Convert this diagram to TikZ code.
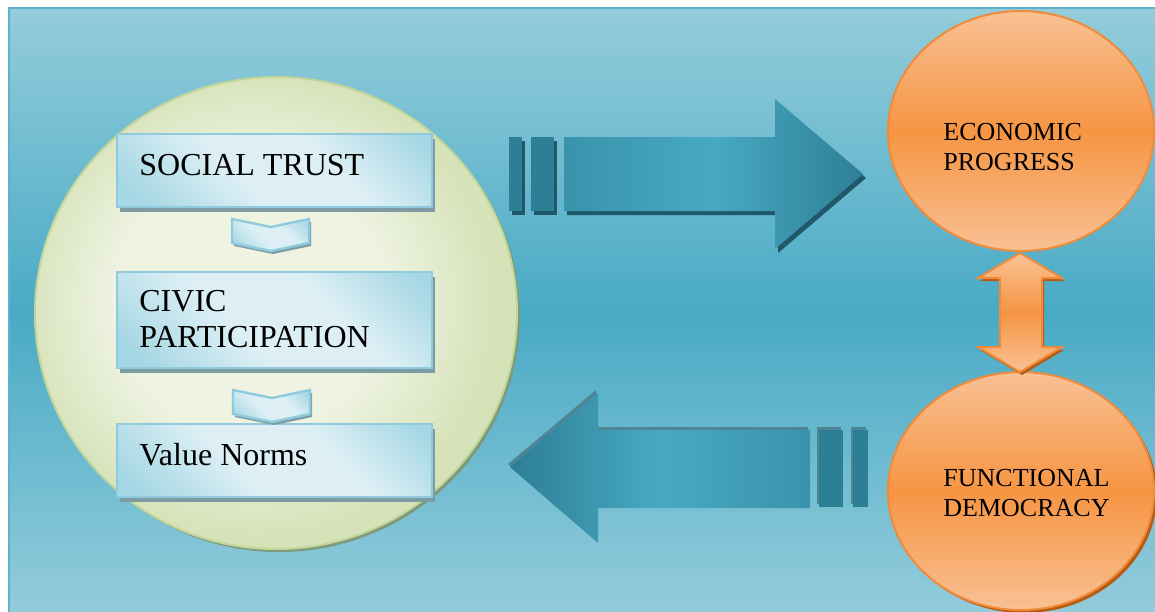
\documentclass[tikz,border=0pt]{standalone}
\usepackage{fontspec}
\setmainfont{Liberation Serif}

\definecolor{bglight}{HTML}{94CCDB}
\definecolor{bgdark}{HTML}{49AAC5}
\definecolor{bgline}{HTML}{5DB3CB}
\definecolor{ringlight}{HTML}{EEF3E2}
\definecolor{ringdark}{HTML}{D6E2B8}
\definecolor{ringline}{HTML}{C2D69A}
\definecolor{ringshadow}{HTML}{7E9A7A}
\definecolor{boxlight}{HTML}{DDEFF5}
\definecolor{boxdark}{HTML}{A6D7E4}
\definecolor{boxline}{HTML}{8FCBDC}
\definecolor{boxshadow}{HTML}{7C9BA3}
\definecolor{tealdark}{HTML}{2D7F96}
\definecolor{tealmid}{HTML}{3A93AC}
\definecolor{teallight}{HTML}{48A9C3}
\definecolor{tealshadow}{HTML}{1F5868}
\definecolor{tealedge}{HTML}{4E8696}
\definecolor{orangelight}{HTML}{F9C194}
\definecolor{orangemid}{HTML}{F69543}
\definecolor{orangeline}{HTML}{EF8B39}
\definecolor{orangeshadow}{HTML}{B95A12}

\pgfdeclarehorizontalshading{boxglow}{100bp}{color(0bp)=(boxdark); color(20bp)=(boxdark); color(42bp)=(boxlight); color(62bp)=(boxlight); color(82bp)=(boxdark); color(100bp)=(boxdark)}
\pgfdeclareradialshading{ringglow}{\pgfpoint{-4bp}{2bp}}{color(0bp)=(ringlight); color(14bp)=(ringlight); color(25bp)=(ringdark); color(50bp)=(ringdark)}

\tikzset{
  stepbox/.style={shading=boxglow, shading angle=45, draw=boxline, line width=1.2pt},
  stepshadow/.style={fill=boxshadow},
  boxtext/.style={inner sep=0pt, align=left, font=\fontsize{16pt}{18pt}\selectfont},
  orbtext/.style={inner sep=0pt, align=left, font=\fontsize{13pt}{15pt}\selectfont},
  orb/.style={top color=orangelight, bottom color=orangelight, middle color=orangemid, draw=orangeline, line width=1pt},
}

\begin{document}
\begin{tikzpicture}[x=0.5pt, y=-0.5pt]
\useasboundingbox (0,0) rectangle (1155,611);

% Background
\fill[white] (0,0) rectangle (1155,611);
\shade[top color=bglight, bottom color=bglight, middle color=bgdark] (9,8) rectangle (1160,616);
\draw[bgline, line width=1pt] (9,616) -- (9,8) -- (1160,8);

% Green circle
\fill[ringshadow] (279,316) ellipse [x radius=241, y radius=236];
\shadedraw[shading=ringglow, draw=ringline, line width=1pt] (276,313) ellipse [x radius=241, y radius=236];

% Boxes
\foreach \top/\bot in {134/207, 272/368, 424/497} {
  \fill[stepshadow] (120,\top+5) rectangle (435,\bot+5);
  \shadedraw[stepbox] (117,\top) rectangle (432,\bot);
}

% Chevrons
\foreach \x/\y in {232/219, 233/390} {
  \fill[stepshadow] (\x+2,\y+3) -- (\x+41,\y+11) -- (\x+79,\y+3) -- (\x+79,\y+27) -- (\x+41,\y+35) -- (\x+2,\y+27) -- cycle;
  \shadedraw[stepbox] (\x,\y) -- (\x+39,\y+8) -- (\x+77,\y) -- (\x+77,\y+24) -- (\x+39,\y+32) -- (\x,\y+24) -- cycle;
}

% Box texts
\node[boxtext, anchor=base west] (trust) at (139,175) {SOCIAL TRUST};
\node[boxtext, anchor=north west] (civic) at (139,290) {CIVIC\\PARTICIPATION};
\node[boxtext, anchor=base west] (norms) at (139,465) {Value Norms};

% Right arrow
\fill[tealshadow] (512,141) rectangle (525,215);
\fill[tealshadow] (534,141) rectangle (557,215);
\fill[tealshadow] (567,141) -- (778,141) -- (778,103) -- (866,178) -- (778,253) -- (778,215) -- (567,215) -- cycle;
\fill[tealdark] (509,137) rectangle (522,211);
\fill[tealdark] (531,137) rectangle (554,211);
\shade[left color=tealmid, right color=tealdark, middle color=teallight] (564,137) -- (775,137) -- (775,99) -- (863,174) -- (775,249) -- (775,211) -- (564,211) -- cycle;

% Left arrow
\fill[tealedge] (508,464) -- (596,390) -- (596,427) -- (808,427) -- (808,505) -- (596,505) -- (596,540) -- cycle;
\fill[tealedge] (817,427) rectangle (841,504);
\fill[tealedge] (851,427) rectangle (866,504);
\fill[tealdark] (819,430) rectangle (843,507);
\fill[tealdark] (853,430) rectangle (868,507);
\shade[left color=tealdark, right color=tealmid, middle color=teallight] (510,467) -- (598,393) -- (598,430) -- (810,430) -- (810,508) -- (598,508) -- (598,543) -- cycle;

% Orange circles
\fill[orangeshadow] (1024,494) ellipse [x radius=133, y radius=119];
\shadedraw[orb] (1021,131) ellipse [x radius=133, y radius=120];
\shadedraw[orb] (1021,491) ellipse [x radius=133, y radius=119];

% Double arrow
\fill[orangeshadow] (1022,256) -- (1064,281) -- (1044,281) -- (1044,350) -- (1064,350) -- (1022,375) -- (980,350) -- (1002,350) -- (1002,281) -- (980,281) -- cycle;
\shadedraw[orb] (1020,253) -- (1062,278) -- (1042,278) -- (1042,347) -- (1062,347) -- (1020,372) -- (978,347) -- (1000,347) -- (1000,278) -- (978,278) -- cycle;

% Circle texts
\node[orbtext, anchor=north west] (econ) at (943,123) {ECONOMIC\\PROGRESS};
\node[orbtext, anchor=north west] (demo) at (943,469) {FUNCTIONAL\\DEMOCRACY};
\end{tikzpicture}
\end{document}
